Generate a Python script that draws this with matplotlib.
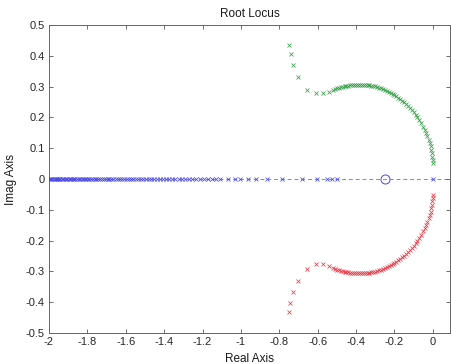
import matplotlib
matplotlib.use('Agg')
import matplotlib.pyplot as plt

plt.rcParams['font.family'] = ['Liberation Sans', 'DejaVu Sans']
plt.rcParams['axes.unicode_minus'] = False

# Root locus branches
blue_real = [-2.000, -1.994, -1.988, -1.982, -1.976, -1.970, -1.964, -1.958, -1.952, -1.946,
             -1.940, -1.933, -1.926, -1.919, -1.912, -1.905, -1.898, -1.891, -1.884, -1.877,
             -1.870, -1.862, -1.854, -1.846, -1.838, -1.830, -1.822, -1.814, -1.806, -1.798,
             -1.789, -1.780, -1.771, -1.762, -1.753, -1.744, -1.735, -1.725, -1.715, -1.705,
             -1.695, -1.685, -1.675, -1.664, -1.653, -1.642, -1.631, -1.620, -1.608, -1.596,
             -1.584, -1.572, -1.560, -1.547, -1.534, -1.521, -1.508, -1.494, -1.480, -1.466,
             -1.452, -1.437, -1.422, -1.407, -1.391, -1.375, -1.359, -1.342, -1.325, -1.308,
             -1.290, -1.272, -1.253, -1.234, -1.214, -1.194, -1.173, -1.151, -1.130, -1.109,
             -1.068, -1.031, -1.005, -0.964, -0.922, -0.865, -0.786, -0.682, -0.604, -0.552,
             -0.526, -0.500, 0.0]

green_real = [-0.750, -0.740, -0.729, -0.700, -0.656, -0.609, -0.573, -0.542,
              -0.52, -0.51, -0.50, -0.49, -0.48, -0.47, -0.46, -0.45, -0.44, -0.43,
              -0.42, -0.41, -0.40, -0.39, -0.38, -0.37, -0.36, -0.35, -0.34, -0.33,
              -0.32, -0.31, -0.30, -0.29, -0.28, -0.27, -0.26, -0.25, -0.24, -0.23,
              -0.22, -0.21, -0.20, -0.19, -0.18, -0.17, -0.16, -0.15, -0.14, -0.13,
              -0.12, -0.11, -0.10, -0.09, -0.08, -0.07, -0.06, -0.05, -0.042, -0.035,
              -0.028, -0.022, -0.017, -0.012, -0.008, -0.005, -0.003, -0.001, 0.0]
green_imag = [0.435, 0.406, 0.370, 0.332, 0.290, 0.279, 0.279, 0.283,
              0.289, 0.292, 0.294, 0.296, 0.298, 0.300, 0.301, 0.302, 0.303, 0.304,
              0.305, 0.305, 0.306, 0.306, 0.306, 0.306, 0.306, 0.305, 0.305, 0.304,
              0.303, 0.302, 0.301, 0.299, 0.297, 0.295, 0.293, 0.290, 0.287, 0.284,
              0.280, 0.277, 0.273, 0.268, 0.264, 0.259, 0.254, 0.249, 0.243, 0.237,
              0.231, 0.224, 0.217, 0.209, 0.200, 0.191, 0.181, 0.170, 0.160, 0.150,
              0.139, 0.128, 0.117, 0.106, 0.095, 0.084, 0.073, 0.062, 0.052]

red_real = [-0.752, -0.742, -0.729, -0.700, -0.656, -0.609, -0.570, -0.540,
            -0.52, -0.51, -0.50, -0.49, -0.48, -0.47, -0.46, -0.45, -0.44, -0.43,
            -0.42, -0.41, -0.40, -0.39, -0.38, -0.37, -0.36, -0.35, -0.34, -0.33,
            -0.32, -0.31, -0.30, -0.29, -0.28, -0.27, -0.26, -0.25, -0.24, -0.23,
            -0.22, -0.21, -0.20, -0.19, -0.18, -0.17, -0.16, -0.15, -0.14, -0.13,
            -0.12, -0.11, -0.10, -0.09, -0.08, -0.07, -0.06, -0.05, -0.042, -0.035,
            -0.028, -0.022, -0.017, -0.012, -0.008, -0.005, -0.003, -0.001, 0.0]
red_imag = [-0.432, -0.402, -0.367, -0.331, -0.292, -0.277, -0.277, -0.283,
            -0.289, -0.292, -0.294, -0.296, -0.298, -0.300, -0.301, -0.302, -0.303, -0.304,
            -0.305, -0.305, -0.306, -0.306, -0.306, -0.306, -0.306, -0.305, -0.305, -0.304,
            -0.303, -0.302, -0.301, -0.299, -0.297, -0.295, -0.293, -0.290, -0.287, -0.284,
            -0.280, -0.277, -0.273, -0.268, -0.264, -0.259, -0.254, -0.249, -0.243, -0.237,
            -0.231, -0.224, -0.217, -0.209, -0.200, -0.191, -0.181, -0.170, -0.160, -0.150,
            -0.139, -0.128, -0.117, -0.106, -0.095, -0.084, -0.073, -0.062, -0.052]

zero_real = [-0.25]
zero_imag = [0.0]

x_ticks = [-2, -1.8, -1.6, -1.4, -1.2, -1, -0.8, -0.6, -0.4, -0.2, 0]
x_labels = ['-2', '-1.8', '-1.6', '-1.4', '-1.2', '-1', '-0.8', '-0.6', '-0.4', '-0.2', '0']
y_ticks = [-0.5, -0.4, -0.3, -0.2, -0.1, 0, 0.1, 0.2, 0.3, 0.4, 0.5]
y_labels = ['-0.5', '-0.4', '-0.3', '-0.2', '-0.1', '0', '0.1', '0.2', '0.3', '0.4', '0.5']


def main():
    fig = plt.figure(figsize=(4.51, 3.64), dpi=100)
    ax = fig.add_axes([0.1086, 0.0852, 0.889, 0.846])

    ax.axhline(0, color='#8a8a8a', ls=(0, (4, 3)), lw=0.7, zorder=1)

    mk = dict(ls='none', marker='x', ms=3.3, mew=0.55, zorder=3)
    ax.plot(blue_real, [0.0] * len(blue_real), color='#4a4ae6', **mk)
    ax.plot(green_real, green_imag, color='#35a048', **mk)
    ax.plot(red_real, red_imag, color='#e83a48', **mk)
    ax.plot(zero_real, zero_imag, ls='none', marker='o', ms=6.5, mfc='none',
            mec='#4a4ae6', mew=0.7, zorder=3)

    ax.set_xlim(-2, 0.089)
    ax.set_ylim(-0.5, 0.5)
    ax.set_xticks(x_ticks)
    ax.set_xticklabels(x_labels)
    ax.set_yticks(y_ticks)
    ax.set_yticklabels(y_labels)

    ax.tick_params(direction='in', length=3, width=0.6, colors='#555555',
                   labelcolor='#262626', labelsize=8, top=True, right=True, pad=3)
    for s in ax.spines.values():
        s.set_color('#666666')
        s.set_linewidth(0.7)

    ax.set_title('Root Locus', fontsize=8.5, color='#1a1a1a', pad=6)
    ax.set_xlabel('Real Axis', fontsize=8.5, color='#1a1a1a', labelpad=4)
    ax.set_ylabel('Imag Axis', fontsize=8.5, color='#1a1a1a', labelpad=6)

    fig.savefig('out.png', dpi=100)


if __name__ == "__main__":
    main()
